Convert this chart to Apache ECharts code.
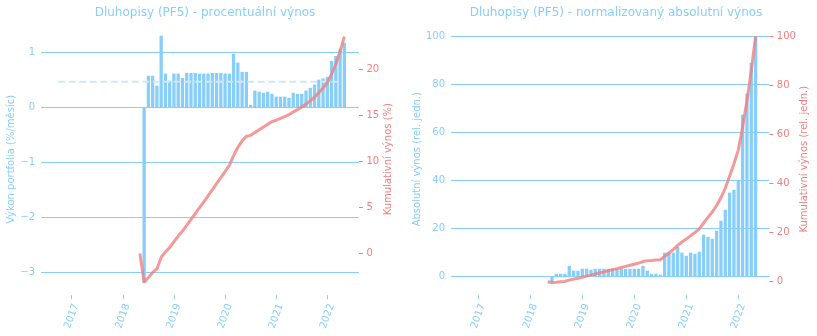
<!DOCTYPE html>
<html><head><meta charset="utf-8">
<script src="https://cdn.jsdelivr.net/npm/echarts@6/dist/echarts.min.js"></script>
<style>html,body{margin:0;padding:0;background:#fff}#c{width:817px;height:336px}</style>
</head><body><div id="c"></div>
<script>
// ---- data ----
const lineMonths = ['2018-05','2018-06','2018-07','2018-08','2018-09','2018-10','2018-11','2018-12',
 '2019-01','2019-02','2019-03','2019-04','2019-05','2019-06','2019-07','2019-08','2019-09','2019-10','2019-11','2019-12',
 '2020-01','2020-02','2020-03','2020-04','2020-05','2020-06','2020-07','2020-08','2020-09','2020-10','2020-11','2020-12',
 '2021-01','2021-02','2021-03','2021-04','2021-05','2021-06','2021-07','2021-08','2021-09','2021-10','2021-11','2021-12',
 '2022-01','2022-02','2022-03','2022-04','2022-05'];
const barMonths = lineMonths.slice(1);
const pctReturn = [-3.20,0.57,0.57,0.39,1.30,0.61,0.48,0.61,0.61,0.53,0.62,0.62,0.62,0.61,0.61,0.61,0.62,0.62,0.62,0.61,0.61,
 0.97,0.81,0.64,0.64,0.04,0.30,0.28,0.26,0.28,0.24,0.19,0.19,0.19,0.17,0.26,0.24,0.24,0.30,0.35,0.41,0.50,0.52,0.55,0.84,0.93,1.06,1.17];
const cumPct = [0,-3.15,-2.62,-2.07,-1.69,-0.42,0.17,0.65,1.27,1.89,2.43,3.06,3.70,4.34,4.98,5.62,6.26,6.92,7.59,8.25,8.91,9.58,
 10.64,11.54,12.25,12.75,12.85,13.15,13.45,13.75,14.05,14.35,14.5,14.7,14.9,15.1,15.4,15.65,15.95,16.25,16.6,17.0,17.5,18.0,18.6,19.5,20.6,22.0,23.6];
const avgReturn = 0.46;
const avgSpan = ['2016-09-26','2022-04-04'];
const absReturn = [-2.5,1.1,1.1,1.1,4.4,2.4,2.4,3.2,3.2,2.8,3.2,3.2,3.2,3.2,3.2,3.2,3.2,3.2,3.2,3.2,3.2,4.4,2.4,1.1,1.1,0.7,
 9.9,9.9,9.9,12.4,9.9,8.6,9.9,9.4,10.3,17.4,16.5,15.7,19.0,23.2,27.8,34.9,36.1,39.9,67.4,76.2,89.0,100];
const cumAbs = [0,-0.35,-0.20,-0.04,0.11,0.72,1.06,1.39,1.84,2.29,2.68,3.12,3.57,4.01,4.46,4.91,5.35,5.80,6.24,6.69,7.14,7.58,
 8.20,8.53,8.68,8.84,8.94,10.32,11.70,13.08,14.80,16.18,17.38,18.76,20.07,21.51,23.93,26.23,28.42,31.07,34.30,38.18,43.04,48.08,53.64,63.03,73.66,86.06,100];
const yearLabels = ['2017','2018','2019','2020','2021','2022'];
const pctTicks = [-3,-2,-1,0,1];
const cumPctTicks = [0,5,10,15,20];
const absTicks = [0,20,40,60,80,100];
const titles = ['Dluhopisy (PF5) - procentuální výnos','Dluhopisy (PF5) - normalizovaný absolutní výnos'];

// ---- helpers ----
function toIdx(s){ const p = s.split('-').map(Number); return (p[0]-2016)*12 + (p[1]-1) + (p[2] ? (p[2]-1)/30 : 0); }
const yearTicks = yearLabels.map(y => toIdx(y + '-01'));
const sky = '#87CEFA', coral = '#F08080', font = 'DejaVu Sans';
const minus = v => String(v).replace('-', '\u2212');

function xAxis(gi, min, max){
  return {type:'value', gridIndex:gi, min, max,
    axisLine:{show:false, onZero:false},
    axisTick:{show:true, length:4, lineStyle:{color:sky, width:1}, customValues:yearTicks},
    axisLabel:{customValues:yearTicks, formatter:v => yearLabels[yearTicks.indexOf(v)] || '', rotate:70,
      align:'center', verticalAlign:'middle', margin:21, color:sky, fontFamily:font, fontSize:10},
    splitLine:{show:false}};
}
function yLeft(gi, min, max, ticks, name, gap){
  return {type:'value', gridIndex:gi, min, max, position:'left',
    axisLine:{show:false, onZero:false},
    axisTick:{show:false, customValues:ticks},
    axisLabel:{customValues:ticks, formatter:minus, color:sky, margin:6, fontSize:10, fontFamily:font},
    splitLine:{show:true, lineStyle:{color:sky, width:1}},
    name, nameLocation:'middle', nameRotate:90, nameGap:gap,
    nameTextStyle:{color:sky, fontSize:10, fontFamily:font}};
}
function yRight(gi, min, max, ticks, name, gap){
  return {type:'value', gridIndex:gi, min, max, position:'right',
    axisLine:{show:false, onZero:false},
    axisTick:{show:true, length:4, lineStyle:{color:coral, width:1}, customValues:ticks},
    axisLabel:{customValues:ticks, formatter:minus, color:coral, margin:7.5, fontSize:10, fontFamily:font},
    splitLine:{show:false},
    name, nameLocation:'middle', nameRotate:90, nameGap:gap,
    nameTextStyle:{color:coral, fontSize:10, fontFamily:font}};
}

const chart = echarts.init(document.getElementById('c'), null, {renderer:'canvas'});
chart.setOption({
  animation:false,
  title:[
    {text:titles[0], left:200, top:2, textAlign:'center', textStyle:{color:sky, fontSize:12, fontWeight:'normal', fontFamily:font}},
    {text:titles[1], left:611, top:2, textAlign:'center', textStyle:{color:sky, fontSize:12, fontWeight:'normal', fontFamily:font}}
  ],
  grid:[
    {left:41, top:23.2, width:318, height:272},
    {left:451, top:23.2, width:318.3, height:272}
  ],
  xAxis:[ xAxis(0, 4.79, 79.44), xAxis(1, 5.70, 79.16) ],
  yAxis:[
    yLeft(0, -3.42, 1.5255, pctTicks, 'Výkon portfolia (%/měsíc)', 25),
    yRight(0, -4.55, 25.06, cumPctTicks, 'Kumulativní výnos (%)', 24),
    yLeft(1, -7.83, 105.5, absTicks, 'Absolutní výnos (rel. jedn.)', 28),
    yRight(1, -5.50, 105.38, absTicks, 'Kumulativní výnos (rel. jedn.)', 30)
  ],
  series:[
    {type:'bar', xAxisIndex:0, yAxisIndex:0, barWidth:3.3, itemStyle:{color:sky}, z:2,
     data:barMonths.map((m,i)=>[toIdx(m), pctReturn[i]])},
    {type:'line', xAxisIndex:0, yAxisIndex:0, symbol:'none', z:3, silent:true,
     lineStyle:{color:'#CFE8F2', width:2, type:[7,3.5]},
     data:avgSpan.map(d=>[toIdx(d), avgReturn])},
    {type:'line', xAxisIndex:0, yAxisIndex:1, symbol:'none', z:4,
     lineStyle:{color:coral, width:3, opacity:0.8},
     data:lineMonths.map((m,i)=>[toIdx(m), cumPct[i]])},
    {type:'bar', xAxisIndex:1, yAxisIndex:2, barWidth:3.3, itemStyle:{color:sky}, z:2,
     data:barMonths.map((m,i)=>[toIdx(m), absReturn[i]])},
    {type:'line', xAxisIndex:1, yAxisIndex:3, symbol:'none', z:4,
     lineStyle:{color:coral, width:3, opacity:0.8},
     data:lineMonths.map((m,i)=>[toIdx(m), cumAbs[i]])}
  ]
});
</script>
</body></html>
